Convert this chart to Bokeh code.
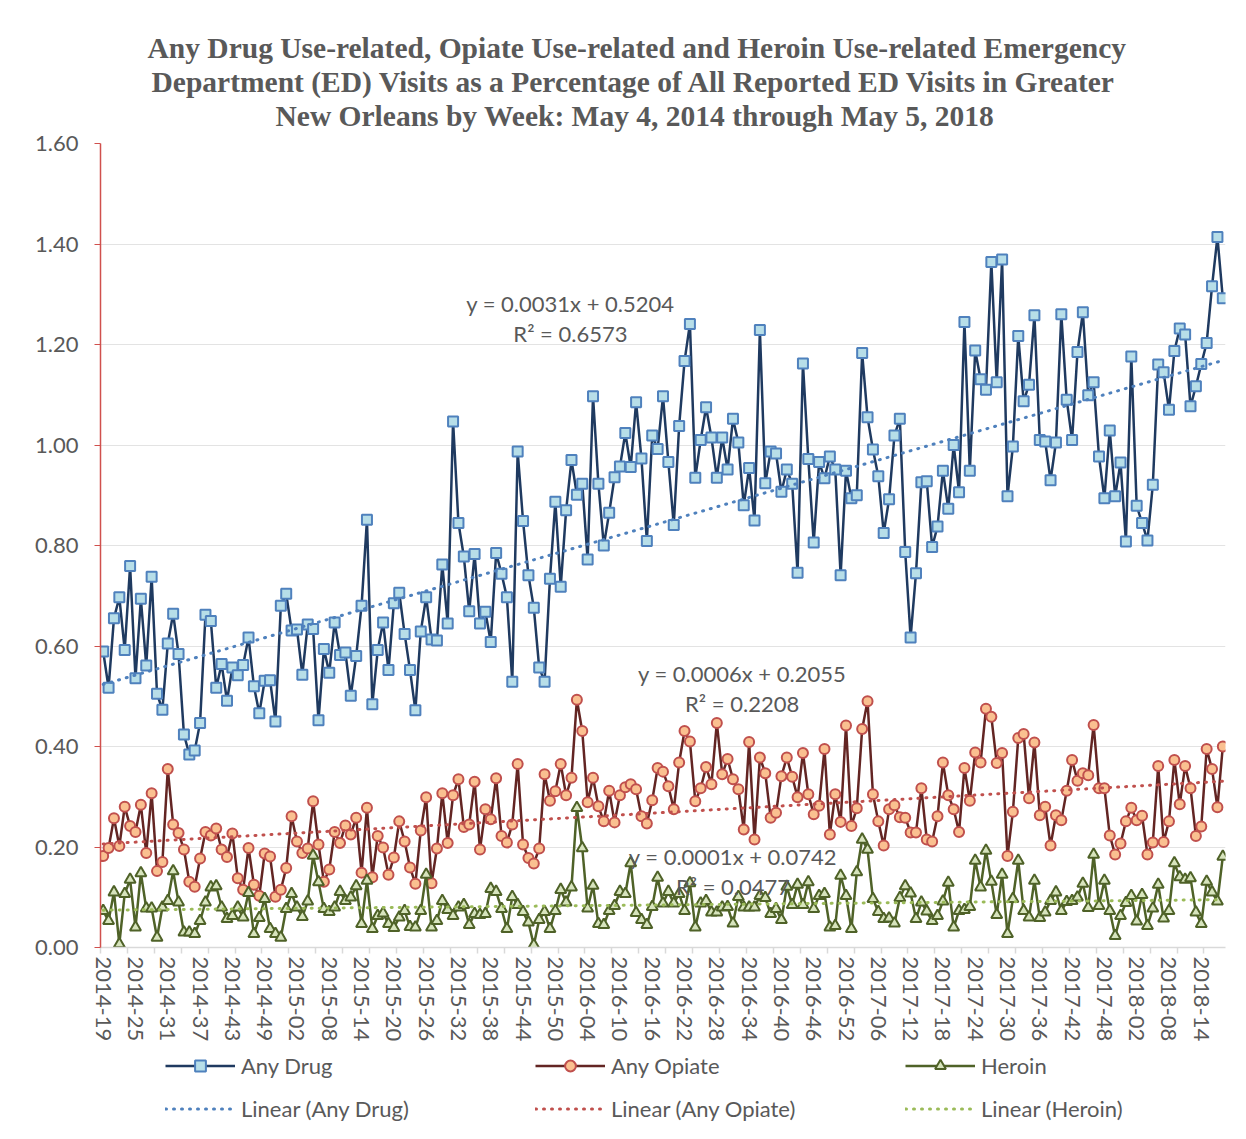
import numpy as np
from bokeh.plotting import figure
from bokeh.layouts import column
from bokeh.models import (FixedTicker, Legend, LegendItem, Label, Title, Range1d,
                          NumeralTickFormatter)
from bokeh.embed import file_html
from bokeh.resources import INLINE

# ---------------- data ----------------
year_week_spans = [(2014, 19, 53), (2015, 1, 52), (2016, 1, 52), (2017, 1, 52), (2018, 1, 18)]
weeks = [f"{y}-{w:02d}" for (y, a, b) in year_week_spans for w in range(a, b + 1)]

any_drug = [
    0.589, 0.517, 0.655, 0.697, 0.592, 0.759, 0.536, 0.694, 0.561, 0.738,
    0.505, 0.473, 0.605, 0.664, 0.584, 0.424, 0.384, 0.392, 0.447, 0.662,
    0.650, 0.517, 0.564, 0.491, 0.557, 0.542, 0.562, 0.617, 0.520, 0.466,
    0.531, 0.532, 0.450, 0.680, 0.704, 0.631, 0.633, 0.543, 0.643, 0.634,
    0.452, 0.594, 0.547, 0.647, 0.582, 0.587, 0.501, 0.580, 0.680, 0.851,
    0.484, 0.592, 0.647, 0.552, 0.685, 0.706, 0.624, 0.552, 0.472, 0.629,
    0.697, 0.613, 0.611, 0.762, 0.645, 1.047, 0.845, 0.778, 0.669, 0.783,
    0.645, 0.668, 0.608, 0.785, 0.744, 0.697, 0.529, 0.987, 0.849, 0.741,
    0.676, 0.557, 0.529, 0.734, 0.887, 0.718, 0.870, 0.970, 0.901, 0.923,
    0.772, 1.097, 0.923, 0.800, 0.865, 0.936, 0.957, 1.024, 0.956, 1.085,
    0.973, 0.809, 1.019, 0.992, 1.097, 0.966, 0.841, 1.038, 1.167, 1.241,
    0.935, 1.010, 1.075, 1.015, 0.935, 1.015, 0.951, 1.052, 1.005, 0.880,
    0.954, 0.850, 1.229, 0.924, 0.987, 0.983, 0.907, 0.951, 0.923, 0.746,
    1.162, 0.972, 0.806, 0.966, 0.934, 0.977, 0.951, 0.741, 0.949, 0.894,
    0.900, 1.183, 1.055, 0.991, 0.938, 0.825, 0.892, 1.019, 1.052, 0.787,
    0.617, 0.745, 0.926, 0.928, 0.797, 0.838, 0.949, 0.873, 1.000, 0.906,
    1.245, 0.949, 1.188, 1.131, 1.110, 1.364, 1.125, 1.369, 0.898, 0.997,
    1.217, 1.087, 1.120, 1.258, 1.010, 1.007, 0.930, 1.005, 1.260, 1.090,
    1.010, 1.185, 1.264, 1.099, 1.125, 0.977, 0.894, 1.029, 0.898, 0.965,
    0.808, 1.176, 0.879, 0.845, 0.810, 0.921, 1.160, 1.145, 1.070, 1.187,
    1.232, 1.220, 1.077, 1.117, 1.161, 1.203, 1.316, 1.414, 1.292,
]

any_opiate = [
    0.182, 0.198, 0.257, 0.202, 0.280, 0.242, 0.230, 0.284, 0.188, 0.307,
    0.152, 0.170, 0.355, 0.245, 0.228, 0.195, 0.131, 0.121, 0.177, 0.230,
    0.223, 0.237, 0.195, 0.180, 0.227, 0.138, 0.115, 0.198, 0.125, 0.103,
    0.187, 0.181, 0.101, 0.115, 0.158, 0.261, 0.211, 0.188, 0.197, 0.291,
    0.205, 0.131, 0.155, 0.230, 0.208, 0.243, 0.225, 0.258, 0.149, 0.278,
    0.140, 0.222, 0.199, 0.145, 0.179, 0.251, 0.211, 0.159, 0.127, 0.233,
    0.299, 0.128, 0.197, 0.307, 0.208, 0.303, 0.335, 0.240, 0.245, 0.330,
    0.195, 0.275, 0.255, 0.337, 0.222, 0.209, 0.245, 0.365, 0.205, 0.178,
    0.167, 0.197, 0.345, 0.292, 0.311, 0.365, 0.303, 0.338, 0.493, 0.431,
    0.289, 0.338, 0.281, 0.251, 0.312, 0.249, 0.303, 0.319, 0.325, 0.315,
    0.261, 0.247, 0.293, 0.357, 0.350, 0.321, 0.275, 0.368, 0.431, 0.410,
    0.291, 0.317, 0.359, 0.325, 0.447, 0.345, 0.375, 0.335, 0.315, 0.235,
    0.409, 0.215, 0.378, 0.347, 0.258, 0.268, 0.341, 0.378, 0.340, 0.299,
    0.387, 0.305, 0.265, 0.282, 0.395, 0.225, 0.305, 0.250, 0.442, 0.242,
    0.277, 0.435, 0.490, 0.305, 0.251, 0.203, 0.275, 0.283, 0.259, 0.258,
    0.229, 0.229, 0.317, 0.215, 0.211, 0.261, 0.368, 0.303, 0.275, 0.230,
    0.357, 0.292, 0.388, 0.368, 0.475, 0.459, 0.367, 0.387, 0.182, 0.270,
    0.417, 0.425, 0.297, 0.408, 0.263, 0.280, 0.203, 0.263, 0.253, 0.312,
    0.373, 0.332, 0.347, 0.343, 0.443, 0.317, 0.317, 0.223, 0.185, 0.207,
    0.251, 0.278, 0.253, 0.262, 0.185, 0.209, 0.361, 0.210, 0.251, 0.373,
    0.285, 0.361, 0.317, 0.222, 0.241, 0.395, 0.355, 0.279, 0.400,
]

heroin = [
    0.073, 0.053, 0.110, 0.007, 0.107, 0.135, 0.040, 0.148, 0.078, 0.078,
    0.020, 0.080, 0.093, 0.152, 0.090, 0.030, 0.030, 0.027, 0.053, 0.090,
    0.120, 0.122, 0.080, 0.057, 0.063, 0.080, 0.060, 0.109, 0.027, 0.059,
    0.097, 0.037, 0.027, 0.020, 0.077, 0.107, 0.080, 0.061, 0.092, 0.183,
    0.130, 0.077, 0.071, 0.080, 0.111, 0.093, 0.100, 0.122, 0.047, 0.133,
    0.037, 0.063, 0.068, 0.047, 0.039, 0.060, 0.073, 0.041, 0.040, 0.073,
    0.145, 0.040, 0.053, 0.093, 0.075, 0.063, 0.080, 0.085, 0.045, 0.067,
    0.065, 0.067, 0.117, 0.111, 0.077, 0.037, 0.101, 0.085, 0.071, 0.050,
    0.005, 0.055, 0.071, 0.037, 0.073, 0.115, 0.090, 0.120, 0.278, 0.198,
    0.078, 0.123, 0.047, 0.045, 0.073, 0.083, 0.111, 0.107, 0.168, 0.069,
    0.055, 0.045, 0.081, 0.139, 0.088, 0.111, 0.088, 0.107, 0.073, 0.128,
    0.040, 0.088, 0.093, 0.070, 0.070, 0.080, 0.081, 0.048, 0.101, 0.080,
    0.080, 0.080, 0.103, 0.099, 0.067, 0.077, 0.055, 0.121, 0.085, 0.125,
    0.085, 0.130, 0.077, 0.103, 0.107, 0.040, 0.043, 0.143, 0.103, 0.037,
    0.150, 0.215, 0.195, 0.097, 0.071, 0.057, 0.058, 0.048, 0.099, 0.122,
    0.108, 0.057, 0.090, 0.072, 0.053, 0.063, 0.092, 0.129, 0.040, 0.073,
    0.075, 0.081, 0.173, 0.120, 0.193, 0.131, 0.065, 0.145, 0.027, 0.097,
    0.173, 0.073, 0.060, 0.133, 0.059, 0.070, 0.093, 0.110, 0.073, 0.091,
    0.093, 0.100, 0.127, 0.079, 0.185, 0.083, 0.133, 0.073, 0.023, 0.063,
    0.089, 0.103, 0.052, 0.105, 0.043, 0.078, 0.125, 0.058, 0.073, 0.168,
    0.140, 0.135, 0.138, 0.070, 0.047, 0.131, 0.110, 0.092, 0.181,
]

# trendline equations as printed on the chart (x = 1..n)
trend_slope = [0.0031, 0.0006, 0.0001]
trend_intercept = [0.5204, 0.2055, 0.0742]
trend_r2 = ["0.6573", "0.2208", "0.0477"]

y_ticks = [0.0, 0.2, 0.4, 0.6, 0.8, 1.0, 1.2, 1.4, 1.6]
title_lines = [
    "Any Drug Use-related, Opiate Use-related and Heroin Use-related Emergency",
    "Department (ED) Visits as a Percentage of All Reported ED Visits in Greater",
    "New Orleans by Week: May 4, 2014 through May 5, 2018",
]
title_left_offsets = [47, 51, 175]

# ---------------- figure ----------------
n = len(weeks)
x = np.arange(n)
SANS = "Lato"
GREY = "#595959"

p = figure(frame_width=1125, frame_height=804,
           x_range=Range1d(-0.5, n - 0.5), y_range=Range1d(0, 1.6),
           output_backend="svg", toolbar_location=None,
           min_border_left=100, min_border_right=13, min_border_top=143,
           min_border_bottom=97)
p.outline_line_color = None
p.background_fill_color = "white"
p.border_fill_color = "white"

# small spacer between plot and title block
p.add_layout(Title(text=" ", text_font_size="9px", standoff=0), "above")
# titles (bottom line added first so it sits closest to the plot)
for k in (2, 1, 0):
    t = Title(text=title_lines[k], align="left", text_font="Liberation Serif",
              text_font_style="bold", text_font_size="29.5px", text_color=GREY,
              standoff=0, offset=title_left_offsets[k])
    p.add_layout(t, "above")

# y axis
p.yaxis.ticker = FixedTicker(ticks=y_ticks)
p.yaxis.formatter = NumeralTickFormatter(format="0.00")
p.yaxis.axis_line_color = "#d0504d"
p.yaxis.axis_line_width = 1.5
p.yaxis.major_tick_line_color = "#d0504d"
p.yaxis.major_tick_in = 0
p.yaxis.major_tick_out = 6
p.yaxis.minor_tick_line_color = None
p.yaxis.major_label_text_font = SANS
p.yaxis.major_label_text_font_size = "22px"
p.yaxis.major_label_text_color = GREY
p.yaxis.major_label_standoff = 16

# x axis
major_x = list(range(0, n, 6))
minor_x = [v - 0.5 for v in range(0, n + 1, 5)]
p.xaxis.ticker = FixedTicker(ticks=major_x, minor_ticks=minor_x)
p.xaxis.major_label_overrides = {i: weeks[i] for i in major_x}
p.xaxis.major_label_orientation = "vertical"
p.xaxis.axis_line_color = "#d9d9d9"
p.xaxis.axis_line_width = 1.5
p.xaxis.major_tick_line_color = None
p.xaxis.minor_tick_line_color = "#d9d9d9"
p.xaxis.minor_tick_line_width = 1.5
p.xaxis.minor_tick_in = 0
p.xaxis.minor_tick_out = 6
p.xaxis.major_label_text_font = SANS
p.xaxis.major_label_text_font_size = "22px"
p.xaxis.major_label_text_color = GREY
p.xaxis.major_label_standoff = 3

p.xgrid.grid_line_color = None
p.ygrid.ticker = FixedTicker(ticks=y_ticks[1:])
p.ygrid.grid_line_color = "#e3e3e3"
p.ygrid.grid_line_width = 1

# series
series = [
    ("Any Drug", any_drug, "#1f3a60", "square", "#b7dee8", "#4f81bd", "#4f81bd", 10),
    ("Any Opiate", any_opiate, "#632523", "circle", "#fac090", "#c0504d", "#c0504d", 10),
    ("Heroin", heroin, "#4f6228", "triangle", "#d7e4bd", "#4f6228", "#9bbb59", 11),
]
for name, vals, lc, mk, fc, mc, tc, sz in series:
    p.line(x, vals, line_color=lc, line_width=2.5)
    p.scatter(x, vals, marker=mk, size=sz, fill_color=fc, line_color=mc, line_width=2)

for k, (name, vals, lc, mk, fc, mc, tc, sz) in enumerate(series):
    ty = [trend_slope[k] * (i + 1) + trend_intercept[k] for i in x]
    p.line(x, ty, line_color=tc, line_width=3, line_dash="1 7", line_cap="round")

# equations
eq_pos = [(86.8, 1.282, 1.222), (118.7, 0.545, 0.486), (117.0, 0.181, 0.121)]
for k, (ex, ey1, ey2) in enumerate(eq_pos):
    for txt, ey in ((f"y = {trend_slope[k]:.4f}x + {trend_intercept[k]:.4f}", ey1),
                    (f"R\u00b2 = {trend_r2[k]}", ey2)):
        p.add_layout(Label(x=ex, y=ey, text=txt, text_align="center",
                           text_baseline="middle", text_font=SANS,
                           text_font_size="22px", text_color=GREY))

# ---------------- legend strip ----------------
lg = figure(frame_width=1238, frame_height=90, x_range=Range1d(0, 1), y_range=Range1d(0, 1),
            x_axis_type=None, y_axis_type=None, output_backend="svg",
            toolbar_location=None, min_border=0)
lg.outline_line_color = None
lg.xgrid.visible = False
lg.ygrid.visible = False
nan = [np.nan]
items = []
for name, vals, lc, mk, fc, mc, tc, sz in series:
    ln = lg.line(nan, nan, line_color=lc, line_width=2.5)
    sc = lg.scatter(nan, nan, marker=mk, size=sz, fill_color=fc, line_color=mc, line_width=2)
    tl = lg.line(nan, nan, line_color=tc, line_width=3, line_dash="1 7", line_cap="round")
    items.append(LegendItem(label=name, renderers=[ln, sc]))
    items.append(LegendItem(label=f"Linear ({name})", renderers=[tl]))

legend = Legend(items=items, ncols=3,
                location=(165, 12), glyph_width=70, glyph_height=27,
                label_width=278, label_standoff=6, spacing=16,
                label_text_font=SANS, label_text_font_size="22px",
                label_text_color=GREY, border_line_color=None,
                background_fill_alpha=0, padding=0, margin=0)
lg.add_layout(legend, "center")

open("out.html", "w").write(file_html(column(p, lg, spacing=0), INLINE))
